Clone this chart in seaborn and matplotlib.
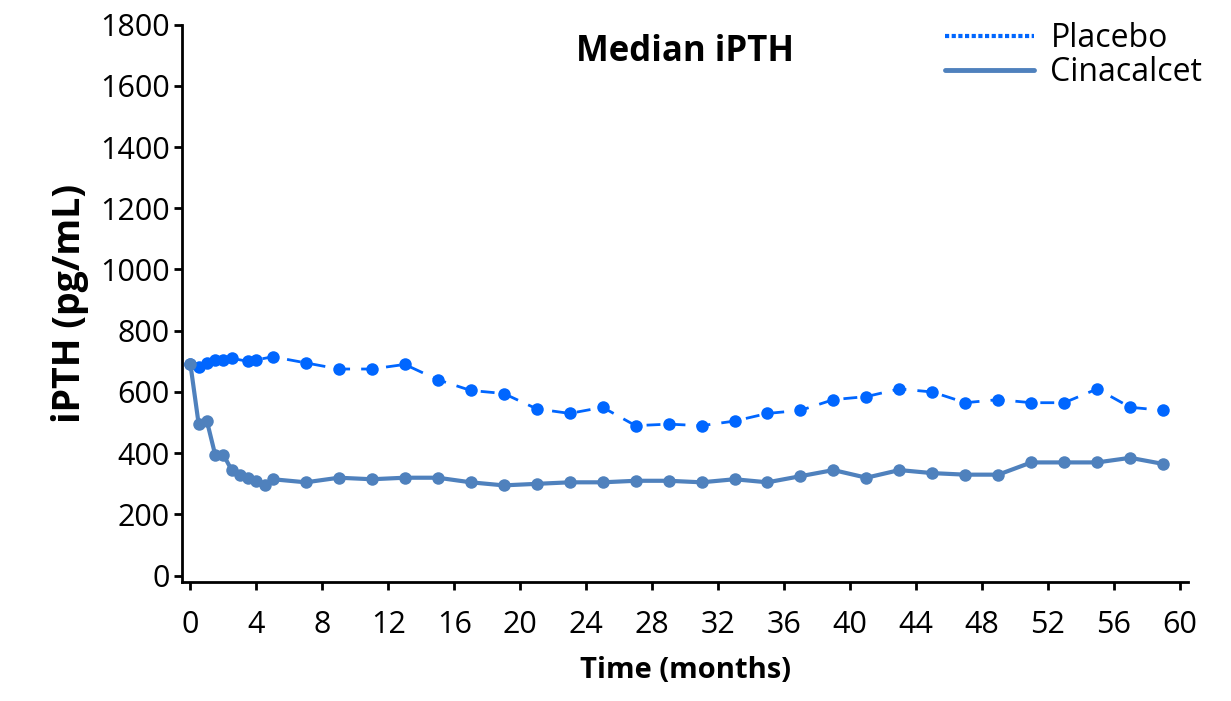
import matplotlib
matplotlib.use("Agg")
import matplotlib.pyplot as plt
import seaborn as sns
import pandas as pd

placebo_t = [0,0.5,1,1.5,2,2.5,3.5,4,5,7,9,11,13,15,17,19,21,23,25,27,29,31,33,35,37,39,41,43,45,47,49,51,53,55,57,59]
placebo_v = [690,680,695,705,705,710,700,705,715,695,675,675,690,640,605,595,545,530,550,490,495,490,505,530,540,575,585,610,600,565,575,565,565,610,550,540]
cina_t = [0,0.5,1,1.5,2,2.5,3,3.5,4,4.5,5,7,9,11,13,15,17,19,21,23,25,27,29,31,33,35,37,39,41,43,45,47,49,51,53,55,57,59]
cina_v = [690,495,505,395,395,345,330,320,310,295,315,305,320,315,320,320,305,295,300,305,305,310,310,305,315,305,325,345,320,345,335,330,330,370,370,370,385,365]
xticks = list(range(0, 61, 4))
yticks = list(range(0, 1801, 200))

sns.set_theme(style="ticks")
plt.rcParams['font.family'] = ['Open Sans', 'DejaVu Sans']
plt.rcParams['text.color'] = 'black'
plt.rcParams['axes.labelcolor'] = 'black'
plt.rcParams['xtick.color'] = 'black'
plt.rcParams['ytick.color'] = 'black'

fig, ax = plt.subplots(figsize=(12.31, 7.01), dpi=100)
dp = pd.DataFrame({"t": placebo_t, "v": placebo_v})
dc = pd.DataFrame({"t": cina_t, "v": cina_v})
sns.lineplot(data=dp, x="t", y="v", ax=ax, color="#0066FF", marker="o", markersize=9,
             markeredgewidth=0, linewidth=2, linestyle=(0, (5, 4)))
sns.lineplot(data=dc, x="t", y="v", ax=ax, color="#4F81BD", marker="o", markersize=9,
             markeredgewidth=0, linewidth=3)

from matplotlib.lines import Line2D
h = [Line2D([], [], color="#0066FF", lw=3, linestyle=(0, (1, 0.6))),
     Line2D([], [], color="#4F81BD", lw=3.5)]
fig.legend(h, ["Placebo", "Cinacalcet"], loc="upper right", bbox_to_anchor=(1.0, 1.01),
           frameon=False, fontsize=23, handlelength=2.8, labelspacing=0.05, handletextpad=0.5)

ax.set_xlim(-0.5, 60.5)
ax.set_ylim(-20, 1800)
ax.set_xticks(xticks)
ax.set_yticks(yticks)
ax.tick_params(labelsize=22, width=2, length=6, color="black", pad=3)
ax.tick_params(axis="x", pad=14)
for s in ["left", "bottom"]:
    ax.spines[s].set_linewidth(2)
    ax.spines[s].set_color("black")
sns.despine(ax=ax)
ax.set_xlabel("Time (months)", fontsize=21, fontweight="bold", labelpad=12)
ax.set_ylabel("iPTH (pg/mL)", fontsize=27, fontweight="bold", labelpad=8)
ax.set_title("Median iPTH", fontsize=25, fontweight="bold", y=0.92)
fig.subplots_adjust(left=0.148, right=0.965, top=0.965, bottom=0.17)
fig.savefig("out.png", dpi=100)
